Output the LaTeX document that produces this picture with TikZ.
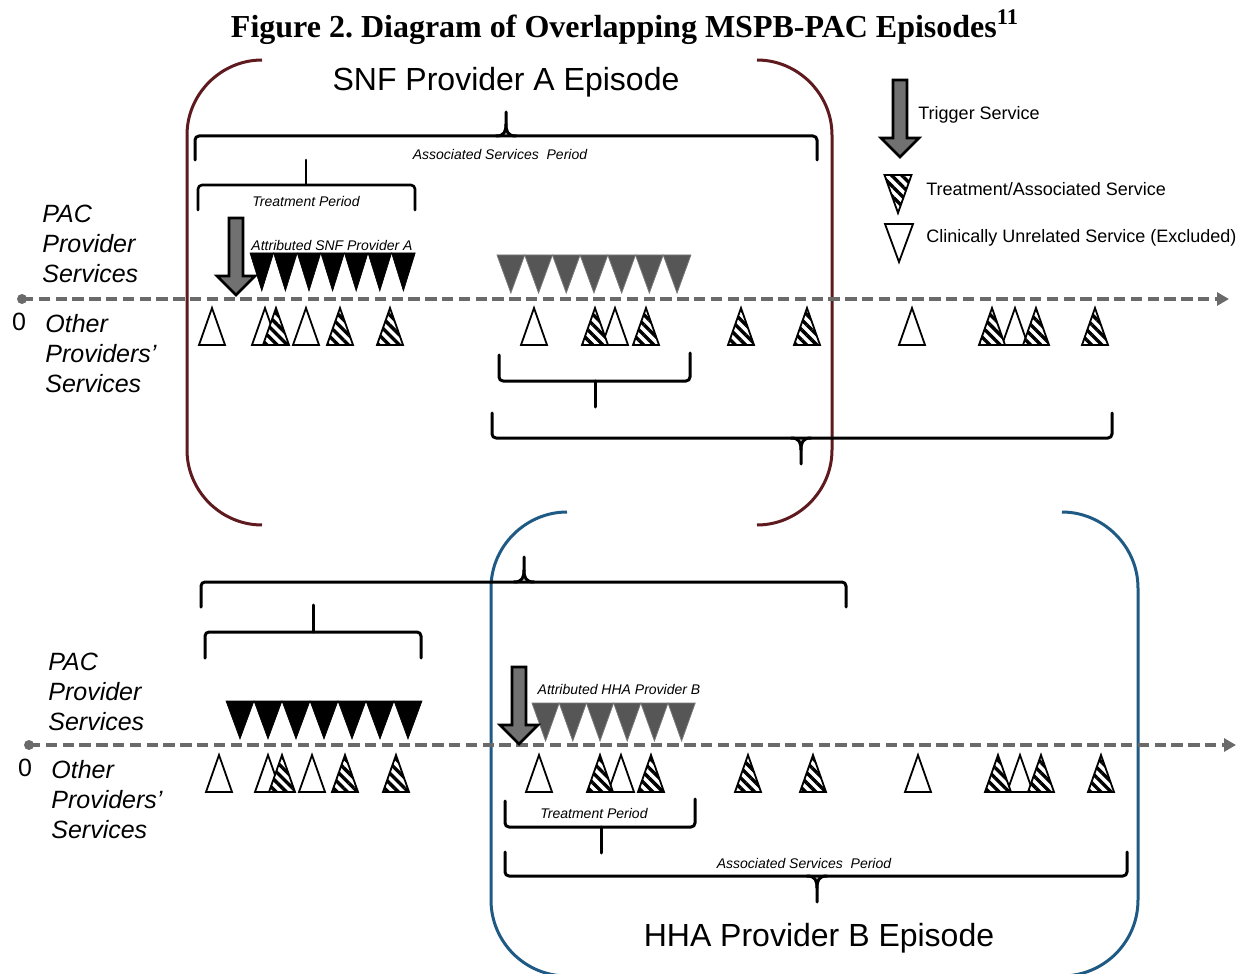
\documentclass[tikz,border=0pt]{standalone}
\usepackage{fontspec}
\setmainfont{Liberation Serif}
\setsansfont{Liberation Sans}
\usetikzlibrary{patterns.meta,arrows.meta}
\definecolor{snfred}{HTML}{5E1A1E}
\definecolor{hhablue}{HTML}{1F5A85}
\definecolor{tlgray}{HTML}{6A6A6A}
\definecolor{trgray}{HTML}{565656}
\definecolor{arrgray}{HTML}{717171}
\newcommand\UpTri[3]{\path[#1,shift={(#2,#3)}] (-13,37) -- (13,37) -- (0,0) -- cycle;}
\newcommand\DnTri[4]{\path[#1,shift={(#2,#3)}] (-#4,0) -- (#4,0) -- (0,38) -- cycle;}
\newcommand\TrigArrow[2]{\filldraw[trigger,shift={(#1,#2)}] (-7,0) -- (7,0) -- (7,58) -- (19,58) -- (0,77) -- (-19,58) -- (-7,58) -- cycle;}
\begin{document}
\begin{tikzpicture}[x=0.5pt,y=-0.5pt,
  whitetri/.style={draw=black,fill=white,line width=0.9pt,line join=miter},
  hatchtri/.style={draw=black,line width=0.9pt,line join=miter,preaction={fill=white},
    pattern={Lines[angle=-45,distance=3.6pt,line width=1.7pt]}},
  blacktri/.style={fill=black,draw=black,line width=0.3pt},
  graytri/.style={fill=trgray,draw=trgray!80!white,line width=0.4pt},
  trigger/.style={fill=arrgray,draw=black,line width=1.3pt,line join=miter},
  timeline/.style={draw=tlgray,line width=2.1pt,dash pattern=on 5.7pt off 2.7pt,-{Triangle[length=6pt,width=6.5pt]}},
  brace/.style={draw=black,line width=1.5pt,line cap=round,line join=round},
  snf/.style={draw=snfred,line width=1.5pt},
  hha/.style={draw=hhablue,line width=1.5pt},
  lbl/.style={font=\sffamily\itshape\fontsize{12.5}{15}\selectfont,align=left,inner sep=0pt,anchor=west},
  small/.style={font=\sffamily\itshape\fontsize{7}{8}\selectfont,inner sep=0pt},
  legend/.style={font=\sffamily\fontsize{9}{11}\selectfont,inner sep=0pt,anchor=west},
  episode/.style={font=\sffamily\fontsize{16}{19}\selectfont,inner sep=0pt}]
\useasboundingbox (0,0) rectangle (1239,974);

% title
\node[font=\bfseries\fontsize{16}{18}\selectfont,inner sep=0pt] (title) at (625,27) {Figure 2.\ Diagram of Overlapping MSPB-PAC Episodes\textsuperscript{11}};

% episode brackets
\draw[snf] (262,60) .. controls (221,60) and (187,94) .. (187,135) -- (187,450) .. controls (187,491) and (221,525) .. (262,525);
\draw[snf] (757,60) .. controls (798,60) and (832,94) .. (832,135) -- (832,450) .. controls (832,491) and (798,525) .. (757,525);
\draw[hha] (567,512) .. controls (526,512) and (491,546) .. (491,588) -- (491,900) .. controls (491,942) and (525,976) .. (567,976);
\draw[hha] (1062,512) .. controls (1103,512) and (1138,546) .. (1138,588) -- (1138,900) .. controls (1138,942) and (1104,976) .. (1062,976);
\node[episode] (snfep) at (506,82) {SNF Provider A Episode};
\node[episode] (hhaep) at (819,938) {HHA Provider B Episode};

% ---------- top section ----------
% associated services brace
\draw[brace] (195,160) [rounded corners=2pt] -- (195,136) -- (817,136) -- (817,160);
\draw[brace] (496,136) .. controls (504,136) and (506,132) .. (506,124) -- (506,112);
\draw[brace] (516,136) .. controls (508,136) and (506,132) .. (506,124);
\node[small] (asp1) at (500,155) {Associated Services\ \ Period};
% treatment brace
\draw[brace,line width=1.3pt] (198,210) [rounded corners=2pt] -- (198,185) -- (415,185) -- (415,210);
\draw[brace,line width=1.3pt] (306,185) -- (306,160);
\node[small] (tp1) at (306,201) {Treatment Period};

% labels
\node[lbl] (pac1) at (42,244) {PAC\\Provider\\Services};
\node[lbl] (oth1) at (45,354) {Other\\Providers’\\Services};
\node[font=\sffamily\fontsize{12.5}{15}\selectfont,inner sep=0pt] (zero1) at (19,322) {0};

% timeline
\coordinate (t0) at (22,299);
\coordinate (t1) at (1229,299);
\fill[tlgray] (t0) circle (5);
\draw[timeline] (t0) -- (t1);

% PAC triangles
\foreach \i in {0,...,6} {\DnTri{blacktri}{261.8+\i*23.6}{253}{11.8}}
\foreach \i in {0,...,6} {\DnTri{graytri}{510.85+\i*27.7}{255}{13.85}}
\node[small] (att1) at (332,246) {Attributed SNF Provider A};
\TrigArrow{236}{218}

% other providers' triangles
\foreach \x in {212,265,306,534,615,912,1015} {\UpTri{whitetri}{\x}{308}}
\foreach \x in {276,340,390,595,646,741,807,992,1036,1095} {\UpTri{hatchtri}{\x}{308}}

% brackets below
\draw[brace] (499,355) [rounded corners=2pt] -- (499,381) -- (690,381) -- (690,353);
\draw[brace] (595,381) -- (595,407);
\draw[brace] (492,413) [rounded corners=2pt] -- (492,438) -- (1112,438) -- (1112,413);
\draw[brace] (791,438) .. controls (799,438) and (801,442) .. (801,450) -- (801,464);
\draw[brace] (811,438) .. controls (803,438) and (801,442) .. (801,450);

% legend
\TrigArrow{900}{80}
\node[legend] (lg1) at (918,115) {Trigger Service};
\DnTri{hatchtri}{898}{175}{13.5}
\node[legend] (lg2) at (926,189) {Treatment/Associated Service};
\DnTri{whitetri}{899}{224}{14}
\node[legend] (lg3) at (926,238) {Clinically Unrelated Service (Excluded)};

% ---------- bottom section ----------
\draw[brace] (201,607) [rounded corners=2pt] -- (201,582) -- (846,582) -- (846,607);
\draw[brace] (514,582) .. controls (522,582) and (524,578) .. (524,570) -- (524,557);
\draw[brace] (534,582) .. controls (526,582) and (524,578) .. (524,570);
\draw[brace] (205,658) [rounded corners=2pt] -- (205,632) -- (421,632) -- (421,658);
\draw[brace] (313,632) -- (313,605);

\node[lbl] (pac2) at (48,692) {PAC\\Provider\\Services};
\node[lbl] (oth2) at (51,800) {Other\\Providers’\\Services};
\node[font=\sffamily\fontsize{12.5}{15}\selectfont,inner sep=0pt] (zero2) at (25,768) {0};

\coordinate (b0) at (29,745);
\coordinate (b1) at (1236,745);
\fill[tlgray] (b0) circle (5);
\draw[timeline] (b0) -- (b1);

\foreach \i in {0,...,6} {\DnTri{blacktri}{240+\i*28}{701}{14}}
\foreach \i in {0,...,5} {\DnTri{graytri}{545.6+\i*27.2}{703}{13.6}}
\node[small] (att2) at (619,689) {Attributed HHA Provider B};
\TrigArrow{519}{667}

\foreach \x in {219,268,312,539,621,918,1020} {\UpTri{whitetri}{\x}{755}}
\foreach \x in {282,345,396,600,651,748,813,998,1041,1101} {\UpTri{hatchtri}{\x}{755}}

\draw[brace] (505,801) [rounded corners=2pt] -- (505,827) -- (695,827) -- (695,799);
\draw[brace] (601,827) -- (601,853);
\node[small] (tp2) at (594,813) {Treatment Period};
\draw[brace] (505,852) [rounded corners=2pt] -- (505,876) -- (1127,876) -- (1127,852);
\draw[brace] (807,876) .. controls (815,876) and (817,880) .. (817,888) -- (817,902);
\draw[brace] (827,876) .. controls (819,876) and (817,880) .. (817,888);
\node[small] (asp2) at (804,863) {Associated Services\ \ Period};
\end{tikzpicture}
\end{document}
